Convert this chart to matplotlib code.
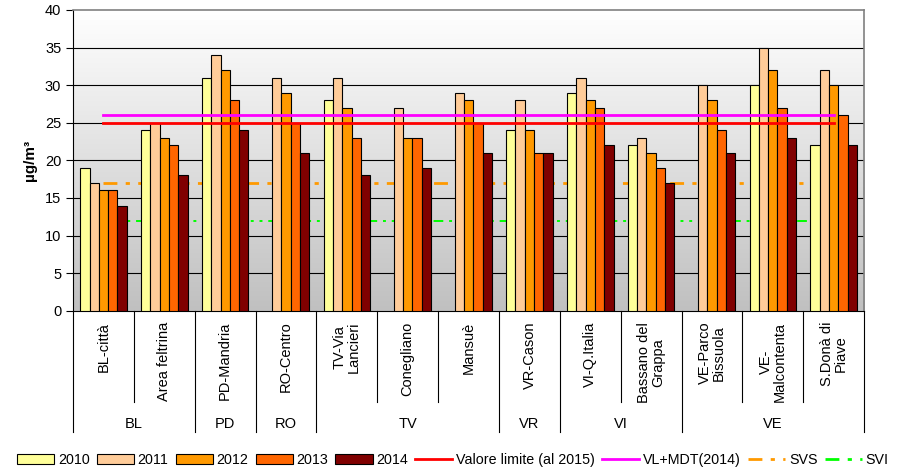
import numpy as np
import matplotlib.pyplot as plt
from matplotlib.patches import Patch
from matplotlib.lines import Line2D
from matplotlib.colors import LinearSegmentedColormap
import matplotlib.transforms as mtransforms

plt.rcParams['font.family'] = ['Liberation Sans', 'DejaVu Sans']

# PM10 media annua per stazione (µg/m3), NaN = dato non disponibile
stazioni = ["BL-città", "Area feltrina", "PD-Mandria", "RO-Centro",
            "TV-Via\nLancieri", "Conegliano", "Mansuè", "VR-Cason",
            "VI-Q.Italia", "Bassano del\nGrappa", "VE-Parco\nBissuola",
            "VE-\nMalcontenta", "S.Donà di\nPiave"]
province = ["BL", "PD", "RO", "TV", "VR", "VI", "VE"]
n_per_provincia = [2, 1, 1, 3, 1, 2, 3]

anni = ["2010", "2011", "2012", "2013", "2014"]
v2010 = [19, 24, 31, np.nan, 28, np.nan, np.nan, 24, 29, 22, np.nan, 30, 22]
v2011 = [17, 25, 34, 31, 31, 27, 29, 28, 31, 23, 30, 35, 32]
v2012 = [16, 23, 32, 29, 27, 23, 28, 24, 28, 21, 28, 32, 30]
v2013 = [16, 22, 28, 25, 23, 23, 25, 21, 27, 19, 24, 27, 26]
v2014 = [14, 18, 24, 21, 18, 19, 21, 21, 22, 17, 21, 23, 22]
colori = ["#FFFF99", "#FFCC99", "#FF9900", "#FF6600", "#800000"]

valore_limite = 25
vl_mdt = 26
svs = 17
svi = 12

fig = plt.figure(figsize=(9.02, 4.71), dpi=100)
ax = fig.add_axes([0.081, 0.34, 0.877, 0.639])

x = np.arange(len(stazioni))
w = 0.153

# sfondo sfumato dell'area del grafico
grad = np.linspace(1.0, 0.0, 256).reshape(-1, 1)
ax.imshow(grad, extent=[0, 1, 0, 1], transform=ax.transAxes, aspect='auto',
          cmap=LinearSegmentedColormap.from_list("g", ["#c0c0c0", "#ffffff"]),
          zorder=0)

for yv in range(5, 40, 5):
    ax.axhline(yv, color="black", lw=0.8, zorder=1)

serie = [v2010, v2011, v2012, v2013, v2014]
for j, (vals, col) in enumerate(zip(serie, colori)):
    ax.bar(x + (j - 2) * w, vals, width=w, color=col, edgecolor="black",
           linewidth=0.8, zorder=3)

# soglie di valutazione sotto le barre, limiti sopra
trattino = (5, 3, 1.5, 3, 1.5, 3)
ax.plot(x, np.full(len(x), svs), color="#FF9900", lw=2, zorder=2,
        dashes=trattino)
ax.plot(x, np.full(len(x), svi), color="#00FF00", lw=1.4, zorder=2,
        dashes=trattino)
ax.plot(x, np.full(len(x), valore_limite), color="#FF0000", lw=2, zorder=4)
ax.plot(x, np.full(len(x), vl_mdt), color="#FF00FF", lw=2, zorder=4)

ax.set_xlim(-0.5, len(x) - 0.5)
ax.set_ylim(0, 40)
ax.set_yticks(range(0, 41, 5))
ax.tick_params(axis='y', labelsize=10.5, length=5, width=0.8)
ax.set_xticks([])
for s in ["top", "right"]:
    ax.spines[s].set_color("#808080")
    ax.spines[s].set_linewidth(1.2)
ax.spines["left"].set_linewidth(0.8)
ax.spines["bottom"].set_linewidth(0.8)

ax.set_ylabel("µg/m³", fontsize=11, fontweight="bold", labelpad=6)

# etichette a due livelli sotto l'asse x
tr = mtransforms.blended_transform_factory(ax.transData, ax.transAxes)
y_staz = -0.302
y_prov = -0.402
confini = np.cumsum([0] + n_per_provincia) - 0.5
for i in range(len(x) + 1):
    b = i - 0.5
    basso = y_prov if b in confini else y_staz
    ax.plot([b, b], [0, basso], color="black", lw=0.8, transform=tr,
            clip_on=False)
for i, nome in enumerate(stazioni):
    ax.text(i, -0.036, nome, transform=tr, rotation=90, ha="center", va="top",
            multialignment="center", fontsize=10.5, linespacing=1.0)
for k, prov in enumerate(province):
    cx = (confini[k] + confini[k + 1]) / 2
    ax.text(cx, -0.375, prov, transform=tr, ha="center", va="center",
            fontsize=10.5)

handles = [Patch(facecolor=c, edgecolor="black", lw=0.8) for c in colori]
handles += [
    Line2D([], [], color="#FF0000", lw=2),
    Line2D([], [], color="#FF00FF", lw=2),
    Line2D([], [], color="#FF9900", lw=2, dashes=trattino),
    Line2D([], [], color="#00FF00", lw=2, dashes=trattino),
]
etichette = anni + ["Valore limite (al 2015)", "VL+MDT(2014)", "SVS", "SVI"]
fig.legend(handles, etichette, loc="center", bbox_to_anchor=(0.502, 0.024),
           ncol=9, frameon=False, fontsize=10.3, handlelength=2.59,
           handleheight=0.7, handletextpad=0.28, columnspacing=0.49,
           borderpad=0)

fig.savefig("out.png", dpi=100)
